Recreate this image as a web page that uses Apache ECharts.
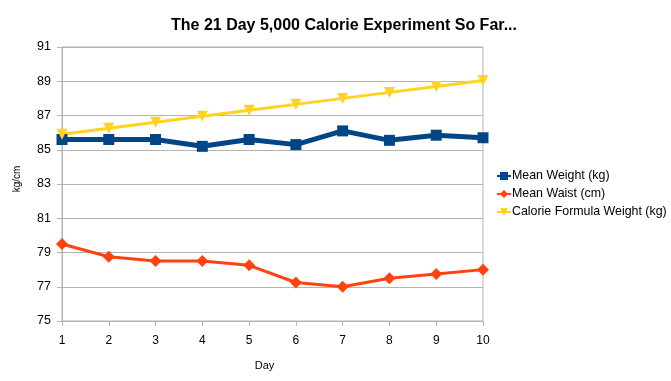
<!DOCTYPE html>
<html><head><meta charset="utf-8">
<script src="https://cdn.jsdelivr.net/npm/echarts@6/dist/echarts.min.js"></script>
<style>html,body{margin:0;padding:0;background:#fff}#c{width:671px;height:381px}</style>
</head><body><div id="c"></div>
<script>
const days = ['1','2','3','4','5','6','7','8','9','10'];
const meanWeight = [85.6, 85.6, 85.6, 85.2, 85.6, 85.3, 86.1, 85.55, 85.85, 85.7];
const meanWaist = [79.5, 78.75, 78.5, 78.5, 78.25, 77.25, 77.0, 77.5, 77.75, 78.0];
const calorieWeight = [85.9, 86.25, 86.6, 86.95, 87.3, 87.65, 88.0, 88.35, 88.7, 89.05];
const seriesNames = ['Mean Weight (kg)', 'Mean Waist (cm)', 'Calorie Formula Weight (kg)'];

const FONT = 'Liberation Sans, Arial, sans-serif';
const chart = echarts.init(document.getElementById('c'), null, {renderer:'canvas'});
chart.setOption({
  animation: false,
  title: {
    text: 'The 21 Day 5,000 Calorie Experiment So Far...',
    left: 339, textAlign: 'center', top: 13,
    textStyle: {fontFamily: FONT, fontSize: 16, fontWeight: 'bold', color: '#000'}
  },
  legend: {
    orient: 'vertical', left: 491, top: 165, itemGap: 6, itemWidth: 14, itemHeight: 10,
    textStyle: {fontFamily: FONT, fontSize: 12.4, color: '#000', padding: [0,0,0,-4]},
    data: seriesNames
  },
  grid: {left: 62, right: 188, top: 47, bottom: 60, show: true, borderColor: '#b3b3b3', borderWidth: 1},
  xAxis: {
    type: 'category', data: days, boundaryGap: false,
    name: 'Day', nameLocation: 'middle', nameGap: 39,
    nameTextStyle: {fontFamily: FONT, fontSize: 11, color: '#000', padding: [0, 16, 0, 0]},
    axisLine: {lineStyle: {color: '#b3b3b3'}},
    axisTick: {show: true, length: 5, lineStyle: {color: '#b3b3b3'}},
    axisLabel: {fontFamily: FONT, fontSize: 12, color: '#000', margin: 14},
    splitLine: {show: false}
  },
  yAxis: {
    type: 'value', min: 75, max: 91, interval: 2,
    name: 'kg/cm', nameLocation: 'middle', nameGap: 40, nameRotate: 90,
    nameTextStyle: {fontFamily: FONT, fontSize: 10, color: '#000', padding: [0, 0, 0, 10]},
    axisLine: {show: true, lineStyle: {color: '#b3b3b3'}},
    axisTick: {show: true, length: 5, lineStyle: {color: '#b3b3b3'}},
    axisLabel: {fontFamily: FONT, fontSize: 12.5, color: '#000', margin: 11},
    splitLine: {show: true, lineStyle: {color: '#b3b3b3', width: 1}}
  },
  series: [
    {name: seriesNames[0], type: 'line', data: meanWeight, symbol: 'rect', symbolSize: 11,
     itemStyle: {color: '#004586'}, lineStyle: {width: 5, color: '#004586'}},
    {name: seriesNames[1], type: 'line', data: meanWaist, symbol: 'diamond', symbolSize: 12,
     itemStyle: {color: '#ff420e'}, lineStyle: {width: 3, color: '#ff420e'}},
    {name: seriesNames[2], type: 'line', data: calorieWeight, symbol: 'triangle', symbolRotate: 180, symbolSize: 11,
     itemStyle: {color: '#ffd320'}, lineStyle: {width: 3, color: '#ffd320'}}
  ]
});
</script></body></html>
